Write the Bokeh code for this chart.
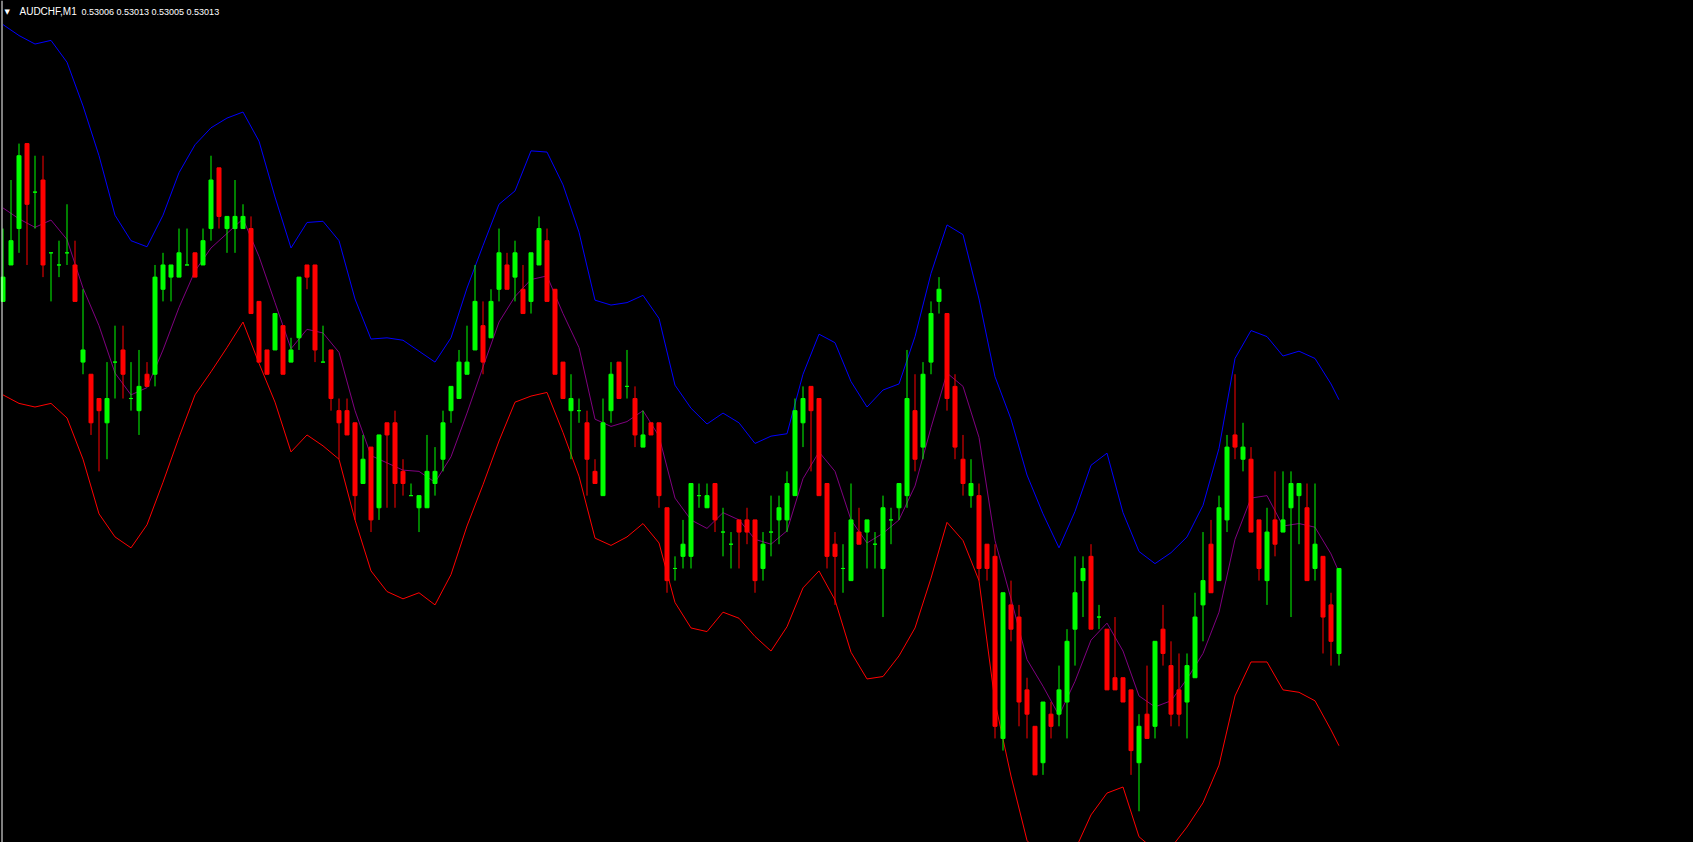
import numpy as np
from bokeh.plotting import figure
from bokeh.models import ColumnDataSource, Range1d, Label, Span, GlobalInlineStyleSheet
from bokeh.embed import file_html
from bokeh.resources import INLINE

# ---------------- data (prices in points above 0.53000, 1 point = 0.00001) ----------------
symbol = "AUDCHF"
timeframe = "M1"
base_price = 0.53000
point = 0.00001

open_pts = [35, 38, 41, 48, 44, 45, 39, 38, 39, 38,
            30, 29, 27, 25, 30, 31, 27, 26, 29, 29,
            36, 37, 37, 38, 39, 38, 41, 46, 41, 41,
            41, 41, 35, 31, 31, 33, 30, 32, 38, 38,
            30, 31, 26, 26, 25, 20, 23, 18, 25, 25,
            21, 19, 18, 18, 20, 22, 26, 27, 29, 31,
            33, 32, 36, 38, 37, 36, 35, 38, 40, 36,
            30, 26, 26, 25, 21, 19, 26, 30, 28, 27,
            23, 25, 25, 18, 13, 14, 14, 19, 18, 20,
            16, 15, 17, 17, 17, 13, 16, 17, 17, 19,
            25, 28, 27, 20, 15, 13, 12, 16, 16, 15,
            13, 17, 18, 19, 26, 23, 30, 35, 34, 28,
            22, 19, 19, 15, 14, -1, 10, 9, 3, 0,
            -3, 1, 1, 2, 8, 12, 14, 9, 8, 4,
            4, 3, -3, 1, 0, 8, 5, 3, 2, 4,
            10, 15, 12, 17, 24, 22, 22, 17, 12, 17,
            16, 18, 19, 18, 13, 14, 10, 6]
high_pts = [41, 45, 48, 48, 47, 47, 39, 40, 43, 40,
            36, 29, 27, 30, 33, 33, 30, 31, 30, 38,
            39, 38, 41, 41, 39, 41, 47, 46, 42, 45,
            43, 42, 35, 31, 34, 33, 32, 37, 38, 38,
            33, 31, 27, 27, 25, 24, 23, 24, 25, 26,
            22, 20, 19, 24, 23, 26, 28, 31, 33, 38,
            35, 36, 41, 39, 40, 38, 39, 42, 41, 36,
            30, 29, 27, 26, 22, 27, 30, 30, 31, 28,
            26, 25, 25, 18, 14, 17, 20, 20, 20, 20,
            18, 16, 17, 18, 17, 16, 19, 19, 21, 27,
            28, 28, 27, 20, 16, 15, 20, 18, 17, 16,
            19, 18, 20, 31, 29, 30, 35, 37, 34, 29,
            24, 22, 20, 15, 15, 11, 12, 10, 4, 0,
            2, 2, 5, 8, 14, 14, 15, 10, 8, 9,
            4, 3, 1, 5, 7, 10, 7, 6, 6, 11,
            16, 17, 19, 24, 29, 25, 23, 17, 18, 21,
            21, 21, 20, 20, 20, 14, 11, 13]
low_pts = [35, 38, 39, 38, 41, 37, 35, 37, 38, 35,
           29, 24, 21, 22, 27, 27, 26, 24, 28, 28,
           35, 35, 37, 38, 37, 38, 40, 41, 39, 39,
           41, 34, 30, 29, 31, 29, 30, 31, 36, 30,
           30, 26, 22, 24, 17, 20, 16, 17, 18, 18,
           19, 19, 16, 18, 19, 21, 25, 27, 29, 31,
           29, 32, 35, 36, 35, 34, 34, 38, 35, 29,
           27, 22, 25, 19, 20, 19, 25, 27, 27, 23,
           23, 24, 18, 11, 12, 13, 13, 18, 18, 16,
           14, 13, 13, 15, 11, 12, 14, 15, 16, 19,
           23, 21, 19, 13, 10, 11, 12, 15, 13, 13,
           9, 15, 17, 18, 21, 22, 29, 34, 26, 22,
           19, 18, 12, 12, -1, -2, 7, 0, -1, -4,
           -4, -1, 0, -1, 5, 9, 8, 8, 3, 3,
           2, -4, -7, -1, -1, 5, 0, 0, -1, 4,
           7, 11, 12, 16, 22, 21, 16, 12, 10, 14,
           16, 9, 15, 12, 12, 6, 5, 5]
close_pts = [37, 40, 47, 43, 44, 38, 39, 38, 39, 35,
             31, 25, 26, 27, 30, 29, 27, 28, 28, 37,
             38, 38, 39, 38, 37, 40, 45, 42, 42, 42,
             42, 34, 30, 29, 34, 29, 31, 37, 37, 31,
             30, 27, 25, 24, 19, 22, 17, 24, 24, 20,
             20, 19, 19, 21, 21, 25, 28, 30, 30, 35,
             30, 35, 39, 36, 39, 34, 39, 41, 35, 29,
             27, 27, 26, 22, 20, 25, 29, 27, 28, 24,
             24, 24, 19, 12, 13, 15, 20, 19, 19, 17,
             16, 15, 16, 16, 12, 15, 16, 18, 20, 26,
             27, 26, 19, 14, 14, 13, 17, 15, 17, 15,
             18, 17, 20, 27, 22, 29, 34, 36, 27, 23,
             20, 20, 13, 13, 0, 11, 8, 2, 1, -4,
             2, 0, 3, 7, 11, 13, 8, 9, 3, 3,
             2, -2, 0, -1, 7, 6, 1, 1, 5, 9,
             12, 11, 18, 23, 23, 23, 16, 13, 16, 15,
             17, 20, 20, 12, 15, 9, 7, 13]

band_bars = list(range(0, 167, 2)) + [167]
upper_pts = [57.8, 56.9, 56.2, 56.5, 54.7, 51.1, 47.0, 42.1, 40.0, 39.5,
             42.1, 45.6, 47.9, 49.3, 50.1, 50.6, 48.2, 43.6, 39.4, 41.5,
             41.6, 40.0, 35.2, 31.9, 32.0, 31.8, 30.9, 30.0, 32.0, 36.1,
             39.6, 43.0, 44.1, 47.4, 47.3, 44.6, 40.7, 35.1, 34.7, 34.9,
             35.5, 33.6, 28.1, 26.2, 24.9, 25.8, 25.0, 23.3, 23.9, 24.1,
             29.0, 32.3, 31.6, 28.4, 26.3, 27.7, 28.2, 32.1, 37.3, 41.3,
             40.5, 35.2, 28.8, 25.3, 20.7, 17.5, 14.7, 17.7, 21.5, 22.5,
             17.6, 14.4, 13.4, 14.3, 15.6, 18.2, 22.9, 30.3, 32.6, 32.1,
             30.5, 30.9, 30.3, 28.2, 26.9]
middle_pts = [42.7, 41.8, 41.1, 41.7, 40.1, 36.1, 33.0, 29.1, 27.3, 27.9,
              31.0, 34.5, 37.5, 39.4, 40.6, 41.8, 38.7, 34.9, 31.1, 32.7,
              32.4, 30.8, 26.0, 22.3, 21.7, 21.1, 21.0, 20.1, 22.2, 25.8,
              29.6, 33.3, 35.4, 36.8, 37.1, 34.0, 31.2, 25.3, 24.7, 25.1,
              26.0, 23.9, 18.8, 17.0, 16.3, 17.6, 17.0, 15.4, 15.0, 16.1,
              20.4, 22.6, 21.0, 17.0, 15.1, 15.9, 17.0, 19.8, 24.6, 29.1,
              28.0, 23.8, 15.3, 10.5, 5.5, 3.3, 0.9, 3.7, 7.1, 8.5,
              6.2, 2.5, 1.6, 2.1, 3.9, 6.0, 9.4, 15.4, 18.8, 19.0,
              16.5, 16.7, 16.4, 14.2, 12.7]
lower_pts = [27.3, 26.6, 26.3, 26.6, 25.4, 22.0, 17.5, 15.6, 14.7, 16.6,
             20.1, 23.8, 27.3, 29.2, 31.2, 33.3, 29.9, 26.7, 22.6, 24.0,
             23.1, 22.0, 17.0, 12.8, 11.1, 10.5, 11.0, 10.0, 12.5, 16.5,
             19.9, 23.5, 26.7, 27.2, 27.5, 24.2, 20.6, 15.5, 14.9, 15.6,
             16.7, 15.1, 10.2, 8.1, 7.8, 9.4, 8.9, 7.4, 6.2, 8.2,
             11.4, 12.8, 10.4, 6.1, 3.9, 4.1, 5.8, 8.1, 12.2, 16.8,
             15.3, 12.0, 2.0, -4.1, -9.4, -10.9, -12.7, -10.2, -7.3, -5.5,
             -5.0, -9.1, -10.2, -10.0, -8.3, -6.3, -3.2, 2.5, 5.3, 5.3,
             3.0, 2.8, 2.1, -0.3, -1.6]

assert len(open_pts) == len(high_pts) == len(low_pts) == len(close_pts) == 168
assert len(band_bars) == len(upper_pts) == len(middle_pts) == len(lower_pts)

# ---------------- layout ----------------
W, H = 1693, 842
BAR_PX = 8.0          # pixels per bar
X0_PX = 2.5           # pixel column of bar 0
PX_PER_POINT = 12.14  # vertical pixels per point
ZERO_ROW_PX = 725.8   # pixel row of base_price

def to_price(pts):
    return np.array([base_price + v * point for v in pts])

o = to_price(open_pts)
h = to_price(high_pts)
l = to_price(low_pts)
c = to_price(close_pts)
bars = np.arange(len(open_pts))
bull = c >= o
colors = np.where(bull, "#00FF00", "#FF0000")

src = ColumnDataSource(dict(x=bars, o=o, h=h, l=l, c=c,
                            top=np.maximum(o, c), bottom=np.minimum(o, c),
                            color=colors))

x_range = Range1d(-X0_PX / BAR_PX, (W - X0_PX) / BAR_PX)
y_range = Range1d(base_price + (ZERO_ROW_PX - H) / PX_PER_POINT * point,
                  base_price + ZERO_ROW_PX / PX_PER_POINT * point)

p = figure(width=W, height=H, x_range=x_range, y_range=y_range,
           x_axis_location=None, y_axis_location=None,
           toolbar_location=None, output_backend="svg",
           background_fill_color="#000000", border_fill_color="#000000",
           outline_line_color=None, min_border=0)
p.grid.visible = False

p.stylesheets = [GlobalInlineStyleSheet(
    css="html, body { margin: 0; padding: 0; background: #000000; overflow: hidden; }")]

# bands
bx = np.array(band_bars)
p.line(bx, to_price(upper_pts), line_color="#0000FF", line_width=1)
p.line(bx, to_price(lower_pts), line_color="#FF0000", line_width=1)
p.line(bx, to_price(middle_pts), line_color="#800080", line_width=1)

# candles
p.segment(x0="x", y0="l", x1="x", y1="h", source=src, line_color="color", line_width=1)
p.vbar(x="x", width=4.0 / BAR_PX, top="top", bottom="bottom", source=src,
       fill_color="color", line_color="color", line_width=1)

# left window border
p.add_layout(Span(location=x_range.start + 1.5 / BAR_PX, dimension="height",
                  line_color="#FFFFFF", line_width=1))

# header
last = len(open_pts) - 1
quote = f"{o[last]:.5f} {h[last]:.5f} {l[last]:.5f} {c[last]:.5f}"
p.add_layout(Label(x=4, y=H - 11, x_units="screen", y_units="screen", text="\u25BC",
                   text_color="#FFFFFF", text_font="DejaVu Sans", text_font_size="7px",
                   text_baseline="alphabetic"))
p.add_layout(Label(x=19, y=H - 11, x_units="screen", y_units="screen",
                   text=f"{symbol},{timeframe}",
                   text_color="#FFFFFF", text_font="Liberation Sans", text_font_size="10px",
                   text_baseline="alphabetic"))
p.add_layout(Label(x=81, y=H - 11, x_units="screen", y_units="screen", text=quote,
                   text_color="#FFFFFF", text_font="Liberation Sans", text_font_size="9px",
                   text_baseline="alphabetic"))

open("out.html", "w").write(file_html(p, INLINE))
